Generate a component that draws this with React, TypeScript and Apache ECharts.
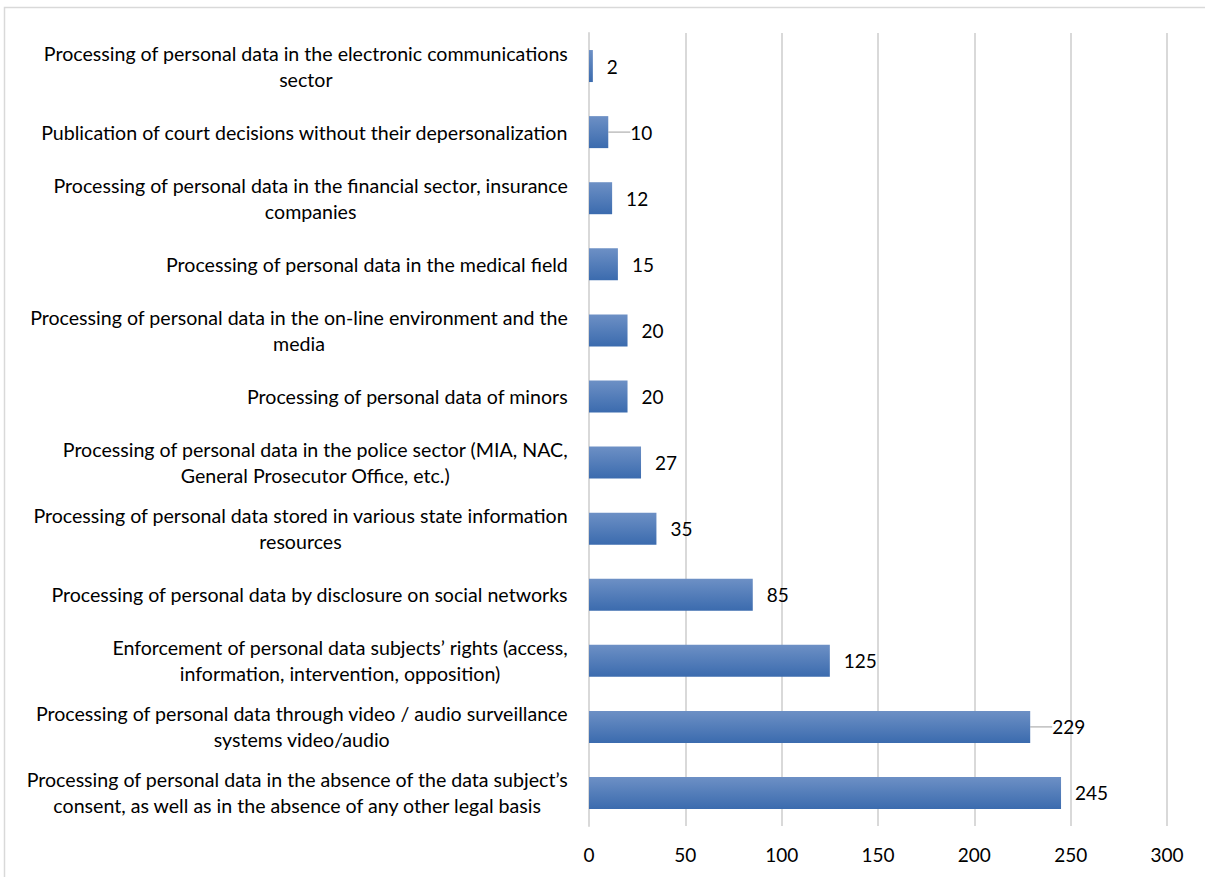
import React, { useEffect, useRef } from "react";
import * as echarts from "echarts";

const categories: string[] = [
  "Processing of personal data in the absence of the data subject’s\nconsent, as well as in the absence of any other legal basis",
  "Processing of personal data through video / audio surveillance\nsystems video/audio",
  "Enforcement of personal data subjects’ rights (access,\ninformation, intervention, opposition)",
  "Processing of personal data by disclosure on social networks",
  "Processing of personal data stored in various state information\nresources",
  "Processing of personal data in the police sector (MIA, NAC,\nGeneral Prosecutor Office, etc.)",
  "Processing of personal data of minors",
  "Processing of personal data in the on-line environment and the\nmedia",
  "Processing of personal data in the medical field",
  "Processing of personal data in the financial sector, insurance\ncompanies",
  "Publication of court decisions without their depersonalization",
  "Processing of personal data in the electronic communications\nsector",
];
const values: number[] = [245, 229, 125, 85, 35, 27, 20, 20, 15, 12, 10, 2];
const shiftedLabels: number[] = [1, 10];
const xTicks = { min: 0, max: 300, interval: 50 };

const FONT = "Lato, 'Open Sans', sans-serif";
const CAT_SIZE = 19.6;

function measure(text: string): number {
  const c = document.createElement("canvas").getContext("2d");
  if (!c) return text.length * CAT_SIZE * 0.5;
  c.font = `${CAT_SIZE}px Lato`;
  return c.measureText(text).width;
}

export default function App() {
  const ref = useRef<HTMLDivElement>(null);
  useEffect(() => {
    if (!ref.current) return;
    const chart = echarts.init(ref.current, undefined, { renderer: "svg" });
    const rich: Record<string, any> = {};
    categories.forEach((c, i) => {
      const w = Math.max(...c.split("\n").map(measure)) + 2;
      rich["r" + i] = {
        width: w,
        align: "center",
        fontSize: CAT_SIZE,
        fontFamily: FONT,
        color: "#000",
        lineHeight: 26,
      };
    });
    chart.setOption({
      animation: false,
      backgroundColor: "#ffffff",
      textStyle: { fontFamily: FONT },
      graphic: [
        {
          type: "rect",
          shape: { x: 4.5, y: 7.5, width: 1220, height: 900 },
          style: { fill: "none", stroke: "#d9d9d9", lineWidth: 1.5 },
          silent: true,
        },
      ],
      grid: { left: 589, right: 38, top: 33, bottom: 51, containLabel: false },
      xAxis: {
        type: "value",
        min: xTicks.min,
        max: xTicks.max,
        interval: xTicks.interval,
        axisLine: { show: false },
        axisTick: { show: false },
        splitLine: { show: true, lineStyle: { color: "#d9d9d9", width: 2 } },
        axisLabel: { color: "#000", fontSize: 19, fontFamily: FONT, margin: 19 },
      },
      yAxis: {
        type: "category",
        data: categories,
        axisLine: { show: true, lineStyle: { color: "#d9d9d9", width: 2 } },
        axisTick: { show: false },
        axisLabel: {
          color: "#000",
          fontSize: CAT_SIZE,
          fontFamily: FONT,
          align: "right",
          lineHeight: 26,
          margin: 20,
          rich,
          formatter: (v: string) => {
            const i = categories.indexOf(v);
            return v
              .split("\n")
              .map((line) => `{r${i}|${line}}`)
              .join("\n");
          },
        },
      },
      series: [
        {
          type: "bar",
          data: values.map((v, i) => ({
            value: v,
            labelLine: { show: shiftedLabels.includes(i) },
          })),
          barWidth: 32,
          itemStyle: {
            color: new echarts.graphic.LinearGradient(0, 0, 0, 1, [
              { offset: 0, color: "#6d90c5" },
              { offset: 1, color: "#3b6bae" },
            ]),
          },
          label: {
            show: true,
            position: "right",
            distance: 14,
            color: "#000",
            fontSize: 19,
            fontFamily: FONT,
          },
          labelLayout: (params: any) =>
            shiftedLabels.includes(params.dataIndex) ? { dx: 8 } : {},
          labelLine: { show: false, lineStyle: { color: "#bfbfbf", width: 1.5 } },
        },
      ],
    });
    return () => chart.dispose();
  }, []);
  return (
    <div
      ref={ref}
      style={{ position: "fixed", left: 0, top: 0, width: 1205, height: 877 }}
    />
  );
}
